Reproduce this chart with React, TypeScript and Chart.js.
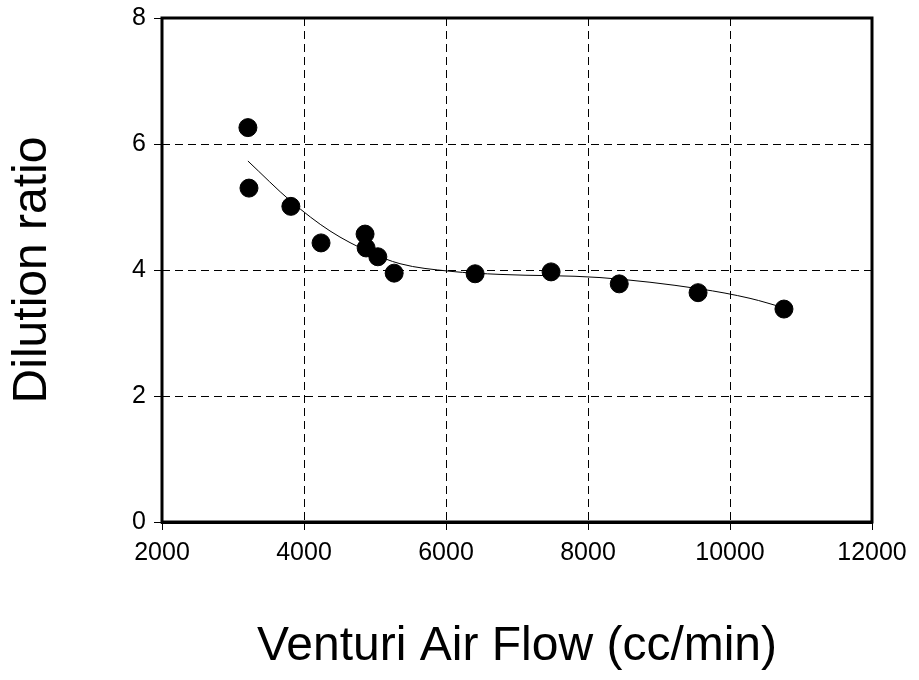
import React, { useEffect, useRef } from 'react';
import Chart from 'chart.js/auto';

const flowX = [3210, 3225, 3815, 4240, 4860, 4875, 5040, 5270, 6410, 7480, 8440, 9550, 10760];
const ratioY = [6.26, 5.3, 5.01, 4.43, 4.57, 4.35, 4.21, 3.95, 3.94, 3.97, 3.78, 3.64, 3.38];
const fitX = [3210, 3817, 4366, 4930, 5352, 6056, 6761, 8169, 9577, 10282, 10760];
const fitY = [5.73, 5.09, 4.62, 4.28, 4.1, 3.98, 3.93, 3.88, 3.7, 3.55, 3.4];

const App = () => {
  const canvasRef = useRef<HTMLCanvasElement>(null);
  const chartRef = useRef<Chart | null>(null);

  useEffect(() => {
    document.body.style.margin = '0';
    if (!canvasRef.current) return;
    if (chartRef.current) chartRef.current.destroy();
    const font = 'Liberation Sans, Arial, sans-serif';
    chartRef.current = new Chart(canvasRef.current, {
      type: 'scatter',
      data: {
        datasets: [
          {
            data: flowX.map((x, i) => ({ x, y: ratioY[i] })),
            backgroundColor: '#000',
            borderColor: '#000',
            pointRadius: 9,
          },
          {
            type: 'line',
            data: fitX.map((x, i) => ({ x, y: fitY[i] })),
            borderColor: '#000',
            borderWidth: 1,
            pointRadius: 0,
            cubicInterpolationMode: 'monotone',
            fill: false,
          } as any,
        ],
      },
      options: {
        animation: false,
        responsive: false,
        layout: { padding: { top: 4, right: 47, left: 0, bottom: 0 } },
        plugins: { legend: { display: false }, tooltip: { enabled: false } },
        scales: {
          x: {
            min: 2000,
            max: 12000,
            afterFit: (s: any) => { s.height = 158; },
            border: { display: true, color: '#000', width: 3 },
            grid: { color: '#000', lineWidth: 1, tickLength: 8 },
            ticks: { stepSize: 2000, color: '#000', font: { family: font, size: 25 }, padding: 8, callback: (v: any) => String(v) },
            title: { display: true, text: 'Venturi Air Flow (cc/min)', color: '#000', font: { family: font, size: 48 }, padding: { top: 30 } },
          },
          y: {
            min: 0,
            max: 8,
            afterFit: (s: any) => { s.width = 162; },
            border: { display: true, color: '#000', width: 3 },
            grid: { color: '#000', lineWidth: 1, tickLength: 8 },
            ticks: { stepSize: 2, color: '#000', font: { family: font, size: 25, lineHeight: 0.8 }, padding: 8 },
            title: { display: true, text: 'Dilution ratio', color: '#000', font: { family: font, size: 48 }, padding: { top: 4, bottom: 0 } },
          },
        },
      },
      plugins: [
        {
          id: 'frame',
          beforeDatasetsDraw(chart: any) {
            const { ctx, chartArea: a, scales } = chart;
            ctx.save();
            ctx.fillStyle = '#fff';
            ctx.fillRect(a.left, a.top, a.right - a.left, a.bottom - a.top);
            ctx.strokeStyle = '#000';
            ctx.lineWidth = 1;
            ctx.setLineDash([8, 5]);
            [4000, 6000, 8000, 10000].forEach((v) => {
              const x = Math.round(scales.x.getPixelForValue(v)) + 0.5;
              ctx.beginPath(); ctx.moveTo(x, a.top); ctx.lineTo(x, a.bottom); ctx.stroke();
            });
            [2, 4, 6].forEach((v) => {
              const y = Math.round(scales.y.getPixelForValue(v)) + 0.5;
              ctx.beginPath(); ctx.moveTo(a.left, y); ctx.lineTo(a.right, y); ctx.stroke();
            });
            ctx.setLineDash([]);
            ctx.lineWidth = 3;
            ctx.strokeRect(a.left, a.top, a.right - a.left, a.bottom - a.top);
            ctx.restore();
          },
        },
      ],
    });
    return () => {
      if (chartRef.current) chartRef.current.destroy();
    };
  }, []);

  return <canvas ref={canvasRef} width={919} height={680} style={{ display: 'block' }} />;
};

export default App;
